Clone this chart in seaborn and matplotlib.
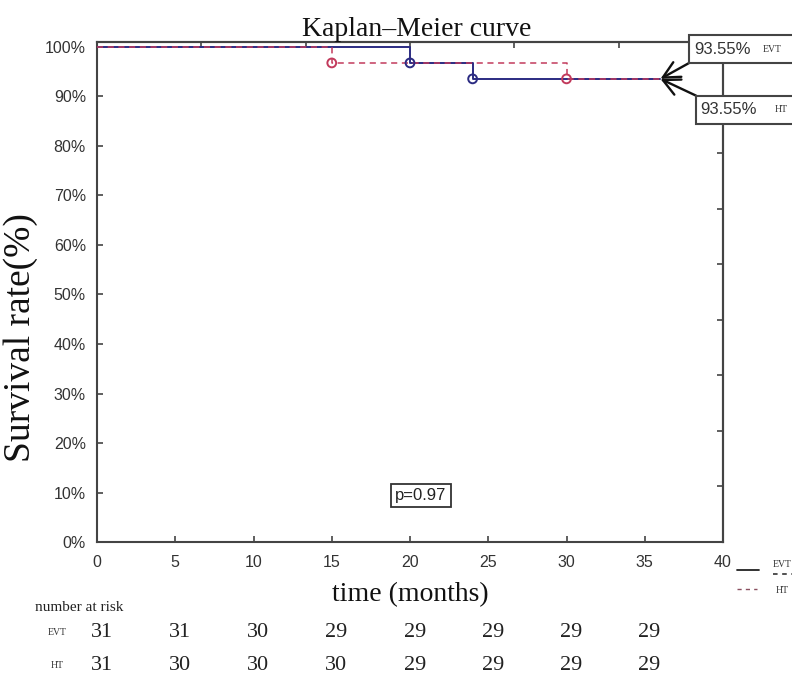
import numpy as np
import pandas as pd
import matplotlib
matplotlib.use("Agg")
import matplotlib.pyplot as plt
import matplotlib.transforms as mtransforms
from matplotlib.lines import Line2D
from matplotlib.patches import Rectangle
import seaborn as sns

# =============================================================================
# Data
# =============================================================================
evt_time = [0, 20, 24, 36]
evt_surv = [1.0, 0.9677, 0.9355, 0.9355]
evt_event_time = [20, 24]
evt_event_surv = [0.9677, 0.9355]

ht_time = [0, 15, 30, 36]
ht_surv = [1.0, 0.9677, 0.9355, 0.9355]
ht_event_time = [15, 30]
ht_event_surv = [0.9677, 0.9355]

risk_times = [0, 5, 10, 15, 20, 25, 30, 35]
evt_risk = [31, 31, 30, 29, 29, 29, 29, 29]
ht_risk = [31, 30, 30, 30, 29, 29, 29, 29]

p_value = 0.97

evt_color = "#2b2b82"
ht_color = "#c23a5c"
serif = ["Liberation Serif", "DejaVu Serif"]
sans = ["Liberation Sans", "DejaVu Sans"]

sns.set_theme(style="ticks")
plt.rcParams["font.family"] = sans
plt.rcParams["axes.edgecolor"] = "#444444"
plt.rcParams["axes.linewidth"] = 1.5

fig = plt.figure(figsize=(7.92, 6.74), dpi=100)
ax = fig.add_axes([0.1225, 0.1958, 0.9129 - 0.1225, 0.9377 - 0.1958])

evt_df = pd.DataFrame({"time": evt_time, "surv": evt_surv})
ht_df = pd.DataFrame({"time": ht_time, "surv": ht_surv})

## Survival curves
sns.lineplot(data=evt_df, x="time", y="surv", ax=ax, estimator=None, sort=False,
             drawstyle="steps-post", color=evt_color, linewidth=1.4, zorder=3)
sns.lineplot(data=ht_df, x="time", y="surv", ax=ax, estimator=None, sort=False,
             drawstyle="steps-post", color=ht_color, linewidth=1.1,
             linestyle=(0, (4, 3)), zorder=4)

## Event markers
sns.scatterplot(x=evt_event_time, y=evt_event_surv, ax=ax, s=40, marker="o",
                facecolor="none", edgecolor=evt_color, linewidth=1.4, zorder=5)
sns.scatterplot(x=ht_event_time, y=ht_event_surv, ax=ax, s=40, marker="o",
                facecolor="none", edgecolor=ht_color, linewidth=1.4, zorder=5)

ax.set_xlim(0, 40)
ax.set_ylim(0, 1.01)
ax.set_xticks(np.arange(0, 41, 5))
ax.set_yticks(np.arange(0, 1.01, 0.1))
ax.set_yticklabels([f"{int(round(v * 100))}%" for v in np.arange(0, 1.01, 0.1)])
ax.tick_params(direction="in", length=4, width=1.2, labelsize=11.5,
               labelcolor="#333333", color="#444444")
ax.tick_params(axis="x", pad=9)
ax.tick_params(axis="y", pad=8)

## Extra inward ticks on top and right
top = ax.secondary_xaxis("top")
top.set_xticks(np.linspace(0, 40, 7))
top.set_xticklabels([])
top.tick_params(direction="in", length=4, width=1.2, color="#444444")
right = ax.secondary_yaxis("right")
right.set_yticks(np.linspace(0, 1.01, 10))
right.set_yticklabels([])
right.tick_params(direction="in", length=4, width=1.2, color="#444444")

ax.set_title("Kaplan\u2013Meier curve", fontfamily=serif, fontsize=20, pad=4,
             color="#111111", x=0.511)
ax.set_xlabel("time (months)", fontfamily=serif, fontsize=20, labelpad=9,
              color="#111111")
ax.set_ylabel("Survival rate(%)", fontfamily=serif, fontsize=27,
              color="#111111")
ax.yaxis.set_label_coords(-0.094, 0.408)

## p-value box
ax.text(20.7, 0.094, f"p={p_value:.2f}", ha="center", va="center", fontsize=12,
        color="#222222",
        bbox=dict(boxstyle="square,pad=0.25", facecolor="white",
                  edgecolor="#333333", linewidth=1.3))

## Final survival annotations with arrows
final_x = evt_time[-1]
arrow = dict(arrowstyle="->,head_length=1.0,head_width=0.5", color="#111111",
             linewidth=1.7, shrinkA=0, shrinkB=0)
ax.annotate("", xy=(final_x, evt_surv[-1]), xycoords="data",
            xytext=(0.870, 0.9065), textcoords="figure fraction",
            arrowprops=arrow, zorder=6)
ax.annotate("", xy=(final_x, ht_surv[-1]), xycoords="data",
            xytext=(0.879, 0.858), textcoords="figure fraction",
            arrowprops=arrow, zorder=6)

for (bx, by, bh, tx, lx, label, val) in [
        (0.870, 0.9065, 0.0415, 0.876, 0.963, "EVT", evt_surv[-1]),
        (0.879, 0.816, 0.042, 0.884, 0.978, "HT", ht_surv[-1])]:
    fig.add_artist(Rectangle((bx, by), 0.2, bh, transform=fig.transFigure,
                             facecolor="white", edgecolor="#444444",
                             linewidth=1.5, zorder=10))
    fig.text(tx, by + bh / 2, f"{val * 100:.2f}%", ha="left", va="center",
             fontsize=12, color="#333333", zorder=11)
    fig.text(lx, by + bh / 2, label, ha="left", va="center", fontsize=7,
             fontfamily=serif, color="#333333", zorder=11)

## Legend drawn by hand at the lower right
fig.add_artist(Line2D([0.930, 0.958], [0.154, 0.154], transform=fig.transFigure,
                      color="#222222", linewidth=1.3))
fig.add_artist(Line2D([0.976, 1.0], [0.149, 0.149], transform=fig.transFigure,
                      color="#222222", linewidth=1.1, linestyle=(0, (3, 3))))
fig.text(0.976, 0.163, "EVT", fontsize=7, fontfamily=serif, va="center",
         color="#333333")
fig.add_artist(Line2D([0.930, 0.956], [0.126, 0.126], transform=fig.transFigure,
                      color="#8a5060", linewidth=1.0, linestyle=(0, (3, 3))))
fig.text(0.980, 0.124, "HT", fontsize=7, fontfamily=serif, va="center",
         color="#333333")

## Number at risk table
fig.text(0.044, 0.098, "number at risk", fontsize=11, fontfamily=serif,
         va="center", color="#222222")
blend = mtransforms.blended_transform_factory(ax.transData, fig.transFigure)
for row_y, label, counts in [(0.061, "EVT", evt_risk), (0.013, "HT", ht_risk)]:
    fig.text(0.072, row_y, label, fontsize=7, fontfamily=serif, ha="center",
             va="center", color="#333333")
    for t, n in zip(risk_times, counts):
        ax.text(t + 0.3, row_y, str(n), transform=blend, ha="center",
                va="center", fontsize=16, fontfamily=serif, color="#222222",
                clip_on=False)

fig.savefig("out.png", dpi=100)
